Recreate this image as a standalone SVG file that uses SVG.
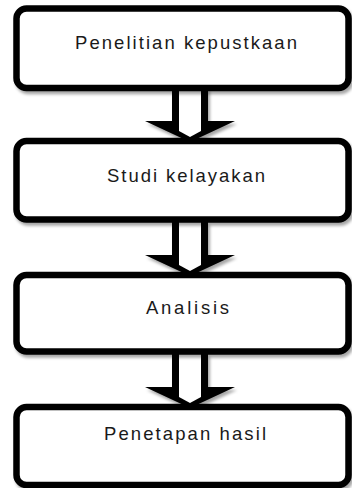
<svg xmlns="http://www.w3.org/2000/svg" xmlns:xlink="http://www.w3.org/1999/xlink" width="352" height="488" viewBox="0 0 352 488">
  <style>
    .box { fill: #ffffff; stroke: #000000; stroke-width: 6.5; filter: url(#shadow); }
    .lbl { font-family: "Liberation Sans", Arial, sans-serif; font-size: 18.5px; fill: #1a1a1a; text-anchor: middle; }
  </style>
  <defs>
    <filter id="shadow" x="-10%" y="-10%" width="125%" height="130%">
      <feDropShadow dx="2" dy="3" stdDeviation="1.5" flood-color="#000" flood-opacity="0.35"/>
    </filter>
    <g id="arrow">
      <polygon points="172,0 172,33 145,33 190,54 235,33 208,33 208,0" fill="#000" filter="url(#shadow)"/>
      <polygon points="179,0 179,43 190,49 201,43 201,0" fill="#fff"/>
    </g>
  </defs>
  <rect width="352" height="488" fill="#ffffff"/>
  <g id="connectors">
    <use xlink:href="#arrow" transform="translate(0,88)"/>
    <use xlink:href="#arrow" transform="translate(0,222)"/>
    <use xlink:href="#arrow" transform="translate(0,354)"/>
  </g>
  <g id="node1">
    <rect class="box" x="16.5" y="8.5" width="332" height="79.5" rx="10"/>
    <text class="lbl" x="186" y="49" textLength="222" lengthAdjust="spacing">Penelitian kepustkaan</text>
  </g>
  <g id="node2">
    <rect class="box" x="16.5" y="141" width="332" height="78.5" rx="10"/>
    <text class="lbl" x="186" y="182" textLength="158" lengthAdjust="spacing">Studi kelayakan</text>
  </g>
  <g id="node3">
    <rect class="box" x="16.5" y="275" width="332" height="76.5" rx="10"/>
    <text class="lbl" x="187.5" y="314" textLength="83" lengthAdjust="spacing">Analisis</text>
  </g>
  <g id="node4">
    <rect class="box" x="16.5" y="407" width="332" height="78" rx="10"/>
    <text class="lbl" x="185" y="440" textLength="162" lengthAdjust="spacing">Penetapan hasil</text>
  </g>
</svg>
